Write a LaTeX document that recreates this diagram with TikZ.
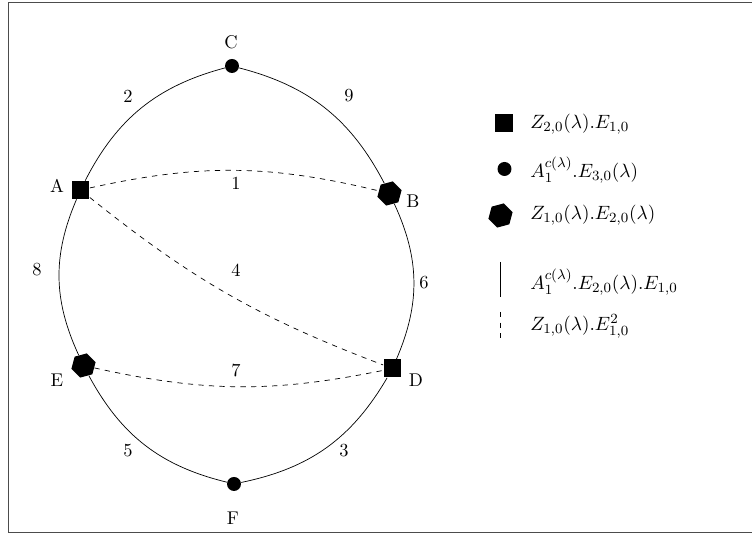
\documentclass[tikz,border=0pt]{standalone}
\usepackage{tikz}
\usetikzlibrary{positioning,shapes.geometric}
\tikzset{
  sqnode/.style={rectangle, fill=black, minimum size=0.36cm, inner sep=0pt},
  dotnode/.style={circle, fill=black, minimum size=0.28cm, inner sep=0pt},
  hexnode/.style={regular polygon, regular polygon sides=6, shape border rotate=15,
                  fill=black, minimum size=0.5cm, inner sep=0pt},
  lbl/.style={font=\fontsize{10.5}{12}\selectfont},
  keytext/.style={anchor=west, inner sep=0pt, font=\fontsize{11}{13}\selectfont},
  link/.style={draw=black},
  dlink/.style={draw=black, dashed}
}
\begin{document}
\begin{tikzpicture}[x=0.02cm, y=0.02cm]
\useasboundingbox (0,0) rectangle (752,536);
\draw[black!70] (8.5,3.5) rectangle (753,533.5);
% vertices
\node[sqnode] (A) at (80.5,346) {};
\node[hexnode] (B) at (389.5,342.5) {};
\node[dotnode] (C) at (232,470) {};
\node[sqnode] (D) at (392.5,167.5) {};
\node[hexnode] (E) at (83.5,170.5) {};
\node[dotnode] (F) at (234,52) {};
\node[lbl] (la) at (57,350) {A};
\node[lbl] (lb) at (413,335) {B};
\node[lbl] (lc) at (231,494) {C};
\node[lbl] (ld) at (416,156) {D};
\node[lbl] (le) at (57,156) {E};
\node[lbl] (lf) at (233,18) {F};
% outer cycle
\draw[link] (A) to[bend left=24] (C);
\draw[link] (C) to[bend left=24] (B);
\draw[link] (B) to[bend left=24] (D);
\draw[link] (D) to[bend left=24] (F);
\draw[link] (F) to[bend left=24] (E);
\draw[link] (E) to[bend left=24] (A);
% chords
\draw[dlink] (A) to[bend left=13] (B);
\draw[dlink] (A) to[bend right=9] (D);
\draw[dlink] (E) to[bend right=12] (D);
% weights
\node[lbl] (w2) at (128,440) {2};
\node[lbl] (w9) at (349,440) {9};
\node[lbl] (w1) at (236,353) {1};
\node[lbl] (w4) at (236,266) {4};
\node[lbl] (w8) at (37,266) {8};
\node[lbl] (w6) at (424,253) {6};
\node[lbl] (w7) at (236,166) {7};
\node[lbl] (w5) at (128,85) {5};
\node[lbl] (w3) at (344,85) {3};
% legend
\node[sqnode] (k1) at (504,412.5) {};
\node[dotnode] (k2) at (504.5,367) {};
\node[hexnode] (k3) at (500.5,320.5) {};
\coordinate (k4a) at (500,274);
\coordinate (k4b) at (500,239);
\coordinate (k5a) at (500,224);
\coordinate (k5b) at (500,193);
\draw[link] (k4a) -- (k4b);
\draw[dlink] (k5a) -- (k5b);
\node[keytext] (t1) at (530,412) {$Z_{2,0}(\lambda).E_{1,0}$};
\node[keytext] (t2) at (530,366) {$A_1^{c(\lambda)}.E_{3,0}(\lambda)$};
\node[keytext] (t3) at (530,321) {$Z_{1,0}(\lambda).E_{2,0}(\lambda)$};
\node[keytext] (t4) at (530,254) {$A_1^{c(\lambda)}.E_{2,0}(\lambda).E_{1,0}$};
\node[keytext] (t5) at (530,210) {$Z_{1,0}(\lambda).E_{1,0}^2$};
\end{tikzpicture}
\end{document}
